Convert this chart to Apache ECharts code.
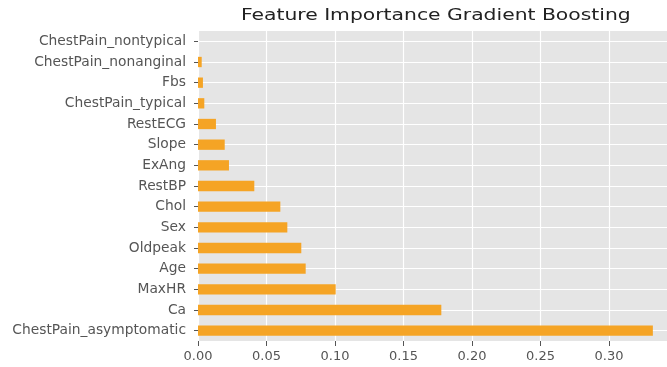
<!DOCTYPE html>
<html>
<head>
<meta charset="utf-8">
<script src="https://cdn.jsdelivr.net/npm/echarts@6/dist/echarts.min.js"></script>
<style>
  html, body { margin: 0; padding: 0; background: #ffffff; overflow: hidden; }
  #chart { width: 700px; height: 367px; }
</style>
</head>
<body>
<div id="chart"></div>
<script>
// Gradient boosting feature importances, listed bottom to top
const features = [
  'ChestPain_asymptomatic', 'Ca', 'MaxHR', 'Age', 'Oldpeak', 'Sex', 'Chol',
  'RestBP', 'ExAng', 'Slope', 'RestECG', 'ChestPain_typical', 'Fbs',
  'ChestPain_nonanginal', 'ChestPain_nontypical'
];
const importance = [
  0.332, 0.1776, 0.1005, 0.0786, 0.0754, 0.0652, 0.0601,
  0.0411, 0.0226, 0.0195, 0.0131, 0.0046, 0.0036,
  0.0027, 0.0
];
const titleText = 'Feature Importance Gradient Boosting';
const xTickStep = 0.05;

const maxImportance = Math.max(...importance);
const xMax = maxImportance * 1.05;

const gridLeft = 198, gridTop = 31, gridWidth = 477.6, gridHeight = 310;

const chart = echarts.init(document.getElementById('chart'), null, { renderer: 'canvas' });

chart.setOption({
  animation: false,
  backgroundColor: '#ffffff',
  textStyle: { fontFamily: 'DejaVu Sans' },
  graphic: [{
    type: 'text',
    x: gridLeft + gridWidth / 2 - 1,
    y: 16,
    scaleX: 1.27,
    style: {
      text: titleText,
      font: '16px "DejaVu Sans"',
      fill: '#222222',
      align: 'center',
      verticalAlign: 'middle'
    }
  }],
  grid: {
    left: gridLeft, top: gridTop, width: gridWidth, height: gridHeight,
    show: true, backgroundColor: '#E5E5E5', borderWidth: 0,
    containLabel: false
  },
  xAxis: {
    type: 'value',
    min: 0,
    max: xMax,
    interval: xTickStep,
    axisLine: { show: false },
    axisTick: { show: true, length: 5, lineStyle: { color: '#555555', width: 1 } },
    axisLabel: {
      color: '#555555', fontSize: 13, margin: 9,
      showMaxLabel: false,
      formatter: v => v.toFixed(2)
    },
    splitLine: { show: true, lineStyle: { color: '#ffffff', width: 1.2 } }
  },
  yAxis: {
    type: 'category',
    data: features,
    axisLine: { show: false },
    axisTick: { show: true, alignWithLabel: true, length: 4, lineStyle: { color: '#555555', width: 1 } },
    axisLabel: { color: '#555555', fontSize: 13.8, margin: 12 },
    splitLine: { show: false }
  },
  series: [
    {
      // white grid lines through each category centre, kept beneath the bars
      type: 'line',
      data: [],
      z: 1,
      silent: true,
      markLine: {
        z: 1,
        silent: true,
        symbol: 'none',
        label: { show: false },
        lineStyle: { color: '#ffffff', width: 1.2, type: 'solid' },
        data: features.map(f => ({ yAxis: f }))
      }
    },
    {
      type: 'bar',
      data: importance,
      barWidth: '50%',
      itemStyle: { color: '#F5A425' },
      z: 3
    }
  ]
});
</script>
</body>
</html>
